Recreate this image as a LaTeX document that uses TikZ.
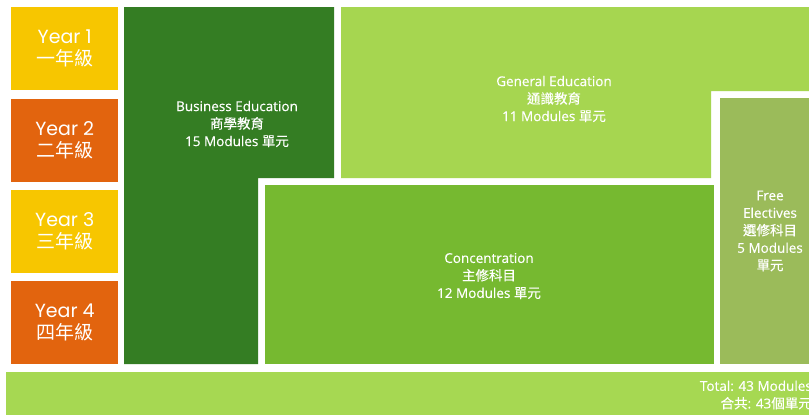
\documentclass[tikz,border=0pt]{standalone}
\usepackage{fontspec}
\setmainfont{Open Sans}
\newfontfamily\blockfont{Open Sans}[FakeBold=0.35]
\newfontfamily\yearfont{Poppins}
\newfontfamily\cjk{Noto Sans CJK TC}
\newfontfamily\cjkb{Noto Sans CJK TC}[FakeBold=0.25]
\definecolor{yellowY}{HTML}{F7C600}
\definecolor{orangeY}{HTML}{E2640E}
\definecolor{bizgreen}{HTML}{347D23}
\definecolor{gengreen}{HTML}{A6D650}
\definecolor{congreen}{HTML}{76B930}
\definecolor{freegreen}{HTML}{9BBB5A}
\definecolor{totgreen}{HTML}{A6D852}
\tikzset{
  yearbox/.style={minimum width=107pt, minimum height=83pt, inner sep=0pt, anchor=north west,
    text=white, align=center, font=\yearfont\fontsize{19}{22}\selectfont},
  blocktext/.style={text=white, align=center, inner sep=0pt, font=\blockfont\fontsize{13.5}{17.5}\selectfont},
}
\begin{document}
\begin{tikzpicture}[x=1pt,y=-1pt]
\useasboundingbox (0,0) rectangle (809,415);
\fill[white] (0,0) rectangle (809,415);
% year boxes
\node[yearbox, fill=yellowY] (y1) at (11,7) {Year 1\\{\cjk 一年級}};
\node[yearbox, fill=orangeY] (y2) at (11,99) {Year 2\\{\cjk 二年級}};
\node[yearbox, fill=yellowY] (y3) at (11,190) {Year 3\\{\cjk 三年級}};
\node[yearbox, fill=orangeY] (y4) at (11,281) {Year 4\\{\cjk 四年級}};
% business education
\fill[bizgreen] (124,7) -- (334,7) -- (334,178) -- (258,178) -- (258,364) -- (124,364) -- cycle;
% general education
\fill[gengreen] (341,7) -- (809,7) -- (809,91) -- (711,91) -- (711,178) -- (341,178) -- cycle;
% concentration
\fill[congreen] (265,185) rectangle (714,364);
% free electives
\fill[freegreen] (720,98) rectangle (809,364);
% total bar
\fill[totgreen] (6,372) rectangle (809,415);
% texts
\node[blocktext] (biz) at (237,124) {Business Education\\{\cjkb 商學教育}\\15 Modules {\cjkb 單元}};
\node[blocktext] (gen) at (554,99) {General Education\\{\cjkb 通識教育}\\11 Modules {\cjkb 單元}};
\node[blocktext] (con) at (489,276) {Concentration\\{\cjkb 主修科目}\\12 Modules {\cjkb 單元}};
\node[blocktext] (free) at (770,231) {Free\\Electives\\{\cjkb 選修科目}\\5 Modules\\{\cjkb 單元}};
\node[blocktext, align=right, anchor=east] (tot) at (812,395) {Total: 43 Modules\\{\cjkb 合共}: 43{\cjkb 個單元}};
\end{tikzpicture}
\end{document}
